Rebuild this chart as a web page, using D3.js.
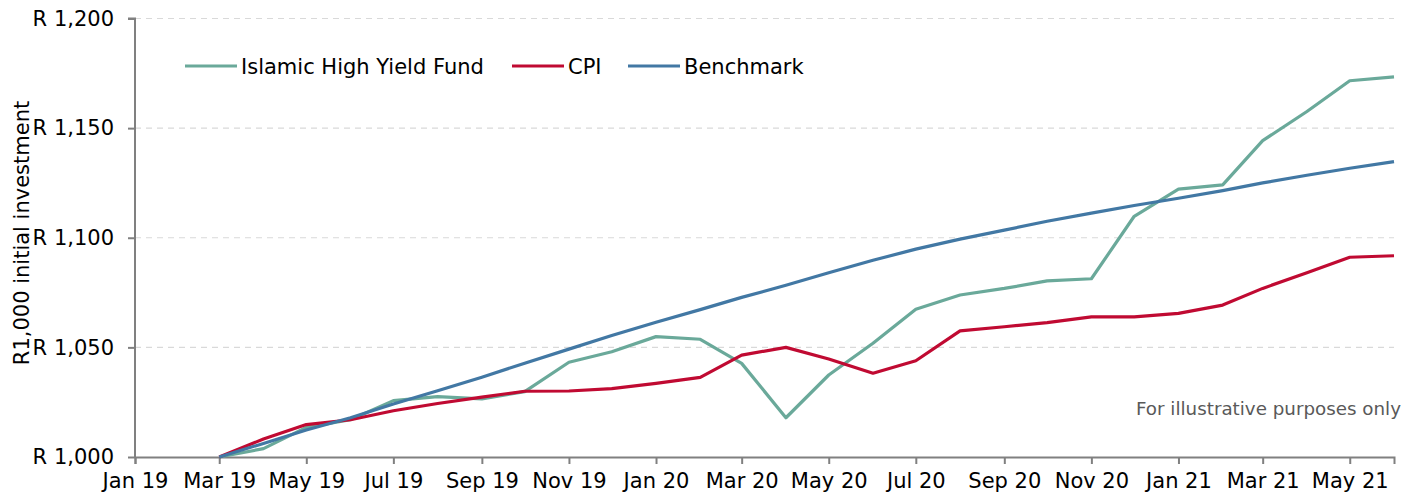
<!DOCTYPE html>
<html lang="en">
<head>
    <meta charset="utf-8">
    <script src="https://d3js.org/d3.v7.min.js"></script>
    <style>
        body { margin: 0; background: #fff; }
        svg text { font-family: "DejaVu Sans", Verdana, sans-serif; fill: #000; }
    </style>
</head>
<body>
<script>
    // monthly values, R1,000 invested in Mar 2019
    const months = ["2019-03","2019-04","2019-05","2019-06","2019-07","2019-08","2019-09","2019-10","2019-11","2019-12",
        "2020-01","2020-02","2020-03","2020-04","2020-05","2020-06","2020-07","2020-08","2020-09","2020-10","2020-11","2020-12",
        "2021-01","2021-02","2021-03","2021-04","2021-05","2021-06"];
    const fund = [1000, 1003.8, 1013.5, 1017, 1025.7, 1027.5, 1026.5, 1029.8, 1043.2, 1048,
        1054.9, 1053.7, 1042.7, 1017.9, 1037.4, 1051.9, 1067.4, 1073.9, 1076.9, 1080.3, 1081.3, 1109.8,
        1122.2, 1124.1, 1144.3, 1157.6, 1171.6, 1173.4];
    const cpi = [1000, 1008.2, 1014.8, 1017, 1021.1, 1024.4, 1027.3, 1030, 1030.1, 1031.2,
        1033.6, 1036.3, 1046.5, 1050, 1044.7, 1038.2, 1043.9, 1057.5, 1059.4, 1061.3, 1063.9, 1063.9,
        1065.5, 1069.3, 1076.9, 1084, 1091.1, 1091.8];
    const benchmark = [1000, 1006.2, 1012.3, 1017.9, 1024.2, 1030.2, 1036.4, 1042.8, 1049.2, 1055.4,
        1061.5, 1067.2, 1072.8, 1078.3, 1084, 1089.7, 1094.8, 1099.4, 1103.5, 1107.5, 1111.2, 1114.7,
        1118, 1121.5, 1125, 1128.5, 1131.7, 1134.7];
    const seriesNames = ["Islamic High Yield Fund", "CPI", "Benchmark"];
    const seriesColors = ["#6aa99a", "#c00a32", "#4278a4"];
    const yTicks = [1000, 1050, 1100, 1150, 1200];

    const width = 1416, height = 497;
    const margin = {top: 18.5, right: 22, bottom: 40, left: 135};
    const fontSize = "21px";

    const parse = d3.timeParse("%Y-%m");
    const dates = months.map(parse);

    const svg = d3.select("body").append("svg")
        .attr("width", width)
        .attr("height", height);

    const x = d3.scaleTime()
        .domain([new Date(2019, 0, 1), new Date(2021, 5, 1)])
        .range([margin.left, width - margin.right]);
    const y = d3.scaleLinear()
        .domain([1000, 1200])
        .range([height - margin.bottom, margin.top]);

    // grid
    svg.append("g")
        .selectAll("line")
        .data(yTicks.slice(1))
        .enter().append("line")
        .attr("x1", margin.left)
        .attr("x2", width - margin.right)
        .attr("y1", d => y(d))
        .attr("y2", d => y(d))
        .attr("stroke", "#d9d9d9")
        .attr("stroke-width", 1.2)
        .attr("stroke-dasharray", "6,5");

    // x axis
    const xAxis = svg.append("g")
        .attr("transform", "translate(0," + y(1000) + ")")
        .call(d3.axisBottom(x)
            .ticks(d3.timeMonth.every(2))
            .tickFormat(d3.timeFormat("%b %y"))
            .tickSize(7)
            .tickPadding(9));
    xAxis.selectAll("text").attr("font-size", fontSize);

    // y axis
    const yAxis = svg.append("g")
        .attr("transform", "translate(" + margin.left + ",0)")
        .call(d3.axisLeft(y)
            .tickValues(yTicks)
            .tickFormat(d => "R " + d3.format(",")(d))
            .tickSize(7)
            .tickPadding(14));
    yAxis.selectAll("text").attr("font-size", fontSize);

    svg.selectAll(".domain, .tick line")
        .attr("stroke", "#808080")
        .attr("stroke-width", 2);
    yAxis.select(".domain").attr("d", "M" + (-7) + "," + y(1200) + "H0V" + y(1000));

    svg.append("text")
        .attr("transform", "translate(29,233) rotate(-90)")
        .attr("text-anchor", "middle")
        .attr("font-size", fontSize)
        .text("R1,000 initial investment");

    // lines
    const values = [fund, cpi, benchmark];
    const line = d3.line()
        .x((d, i) => x(dates[i]))
        .y(d => y(d));

    svg.append("g")
        .selectAll("path")
        .data(values)
        .enter().append("path")
        .attr("d", d => line(d))
        .attr("fill", "none")
        .attr("stroke", (d, i) => seriesColors[i])
        .attr("stroke-width", 3.2)
        .attr("stroke-linejoin", "round");

    // legend
    const legendX = [185, 512, 628];
    const leg = svg.append("g")
        .selectAll("g")
        .data(seriesNames)
        .enter().append("g")
        .attr("transform", (d, i) => "translate(" + legendX[i] + ",66)");
    leg.append("line")
        .attr("x1", 0).attr("x2", 52)
        .attr("stroke", (d, i) => seriesColors[i])
        .attr("stroke-width", 3.2);
    leg.append("text")
        .attr("x", 56)
        .attr("dy", "0.36em")
        .attr("font-size", fontSize)
        .text(d => d);

    svg.append("text")
        .attr("x", width - 15)
        .attr("y", 415)
        .attr("text-anchor", "end")
        .attr("font-size", "18.3px")
        .style("fill", "#595959")
        .text("For illustrative purposes only");
</script>
</body>
</html>
